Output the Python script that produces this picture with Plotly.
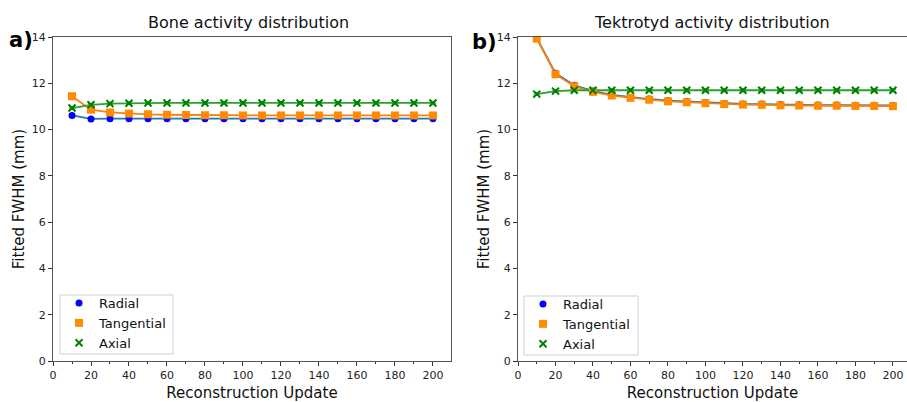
import plotly.graph_objects as go

updates = [10, 20, 30, 40, 50, 60, 70, 80, 90, 100, 110, 120, 130, 140, 150, 160, 170, 180, 190, 200]

bone_radial = [10.61, 10.46, 10.47, 10.47, 10.47, 10.47, 10.47, 10.47, 10.47, 10.47,
               10.47, 10.47, 10.47, 10.47, 10.47, 10.47, 10.47, 10.47, 10.47, 10.47]
bone_tangential = [11.44, 10.86, 10.74, 10.69, 10.66, 10.64, 10.63, 10.62, 10.62, 10.61,
                   10.61, 10.61, 10.61, 10.61, 10.61, 10.61, 10.61, 10.61, 10.61, 10.61]
bone_axial = [10.93, 11.07, 11.12, 11.14, 11.15, 11.15, 11.15, 11.15, 11.15, 11.15,
              11.15, 11.15, 11.15, 11.15, 11.15, 11.15, 11.15, 11.15, 11.15, 11.15]

tek_radial = [13.96, 12.43, 11.91, 11.67, 11.50, 11.40, 11.32, 11.25, 11.21, 11.17,
              11.13, 11.11, 11.10, 11.08, 11.07, 11.06, 11.06, 11.05, 11.05, 11.04]
tek_tangential = [13.93, 12.39, 11.87, 11.63, 11.47, 11.37, 11.29, 11.22, 11.18, 11.14,
                  11.10, 11.08, 11.07, 11.05, 11.04, 11.03, 11.03, 11.02, 11.02, 11.01]
tek_axial = [11.53, 11.66, 11.70, 11.70, 11.70, 11.70, 11.70, 11.70, 11.70, 11.70,
             11.70, 11.70, 11.70, 11.70, 11.70, 11.70, 11.70, 11.70, 11.70, 11.70]

err = 0.05
series_names = ["Radial", "Tangential", "Axial"]
line_colors = ["#1f77b4", "#ff7f0e", "#2ca02c"]
marker_colors = ["#0000ff", "#ff8c00", "#008000"]
marker_symbols = ["circle", "square", "x-thin"]
marker_sizes = [7, 8, 7]

x_ticks = list(range(0, 201, 20))
y_ticks = list(range(0, 15, 2))

W, H = 907, 402
T, B = 37, 41
PH = H - T - B


def py(p):
    return (H - B - p) / PH


fig = go.Figure()

panels = [
    ("x", "y", "legend", [bone_radial, bone_tangential, bone_axial]),
    ("x2", "y2", "legend2", [tek_radial, tek_tangential, tek_axial]),
]

for xa, ya, lg, data in panels:
    for i, vals in enumerate(data):
        fig.add_trace(go.Scatter(
            x=updates, y=vals, mode="lines", xaxis=xa, yaxis=ya,
            line=dict(color=line_colors[i], width=1.8),
            error_y=dict(type="constant", value=err, color=line_colors[i], thickness=1.5, width=3),
            showlegend=False, hoverinfo="skip"))
    for i, vals in enumerate(data):
        mk = dict(color=marker_colors[i], size=marker_sizes[i], symbol=marker_symbols[i])
        if marker_symbols[i] == "x-thin":
            mk["line"] = dict(color=marker_colors[i], width=2)
        fig.add_trace(go.Scatter(
            x=updates, y=vals, mode="markers", xaxis=xa, yaxis=ya,
            marker=mk, name=series_names[i], legend=lg))

axis_common = dict(
    showgrid=False, zeroline=False, showline=True, linecolor="#555555", linewidth=1.3,
    mirror=True, ticks="outside", ticklen=4, tickwidth=1, tickcolor="#333333",
    tickfont=dict(family="DejaVu Sans", size=11, color="#222222"), automargin=False,
)
minor_x = dict(dtick=10, ticks="outside", ticklen=2, tickcolor="#333333")
xtitle = dict(text="Reconstruction Update", font=dict(size=15), standoff=6)
ytitle = dict(text="Fitted FWHM (mm)", font=dict(size=15), standoff=3)
legend_common = dict(xref="paper", yref="paper", xanchor="left", yanchor="top",
                     borderwidth=0, bgcolor="rgba(0,0,0,0)",
                     font=dict(size=13, family="DejaVu Sans"), tracegroupgap=0, itemwidth=30)
ann_common = dict(xref="paper", yref="paper", showarrow=False,
                  xanchor="center", yanchor="middle")


def legend_box(x0, x1, y0, y1):
    return dict(type="rect", xref="paper", yref="paper", x0=x0 / W, x1=x1 / W,
                y0=py(y1), y1=py(y0), fillcolor="white",
                line=dict(color="#d0d0d0", width=1), layer="below")


fig.update_layout(
    width=W, height=H,
    margin=dict(l=0, r=0, t=T, b=B, autoexpand=False),
    paper_bgcolor="white", plot_bgcolor="white",
    font=dict(family="DejaVu Sans", color="#111111"),
    xaxis=dict(domain=[53 / W, 451 / W], range=[0, 209.5], tickvals=x_ticks,
               minor=minor_x, title=xtitle, **axis_common),
    yaxis=dict(domain=[0, 1], range=[0, 14], tickvals=y_ticks, title=ytitle, **axis_common),
    xaxis2=dict(domain=[518 / W, 1.0], range=[0, 207.5], tickvals=x_ticks, anchor="y2",
                minor=minor_x, title=xtitle, **axis_common),
    yaxis2=dict(domain=[0, 1], range=[0, 14], tickvals=y_ticks, anchor="x2",
                title=ytitle, **axis_common),
    legend=dict(x=59 / W, y=py(288), **legend_common),
    legend2=dict(x=523 / W, y=py(289), **legend_common),
    shapes=[legend_box(60, 173, 295, 354), legend_box(524, 638, 296, 355)],
    annotations=[
        dict(text="Bone activity distribution", x=248 / W, y=py(22),
             font=dict(size=16, family="DejaVu Sans", color="#111111"), **ann_common),
        dict(text="Tektrotyd activity distribution", x=712 / W, y=py(22),
             font=dict(size=16, family="DejaVu Sans", color="#111111"), **ann_common),
        dict(text="<b>a)</b>", x=21 / W, y=py(40),
             font=dict(size=21, family="DejaVu Sans", color="#000000"), **ann_common),
        dict(text="<b>b)</b>", x=484 / W, y=py(42),
             font=dict(size=21, family="DejaVu Sans", color="#000000"), **ann_common),
    ],
)

fig.write_html("out.html", config={"displayModeBar": False},
               post_script="document.body.style.margin='0';")
